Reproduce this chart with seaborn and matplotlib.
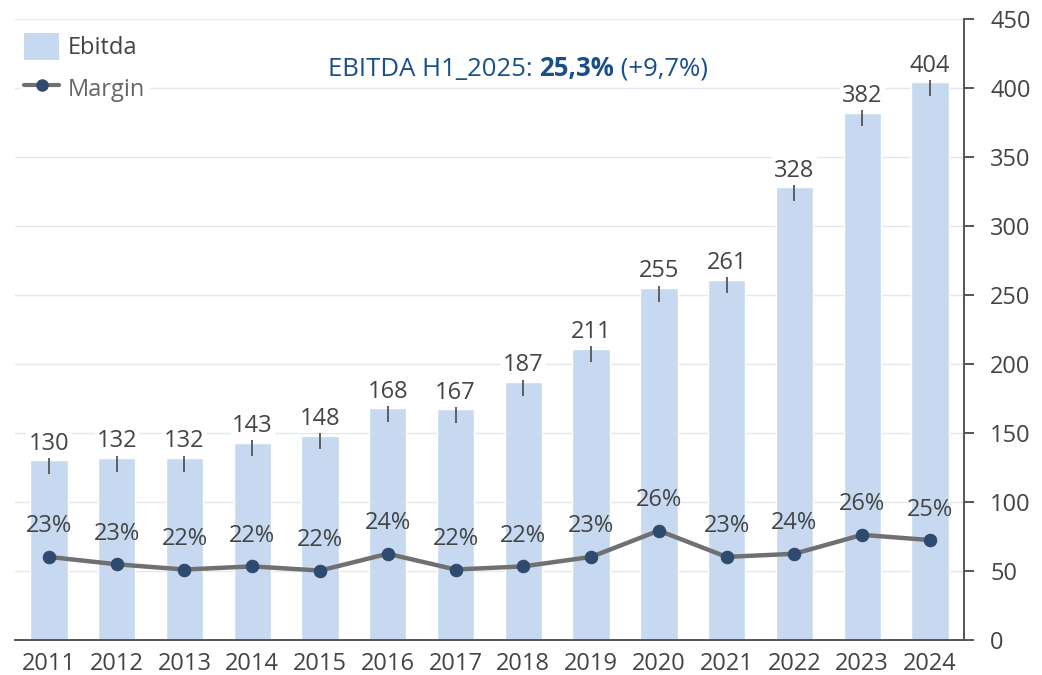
import numpy as np
import pandas as pd
import matplotlib.pyplot as plt
import seaborn as sns
from matplotlib.patches import Patch
from matplotlib.lines import Line2D

# data
years = ['2011', '2012', '2013', '2014', '2015', '2016', '2017',
         '2018', '2019', '2020', '2021', '2022', '2023', '2024']
ebitda = [130, 132, 132, 143, 148, 168, 167, 187, 211, 255, 261, 328, 382, 404]
margin = [23.3, 22.6, 22.1, 22.4, 22.0, 23.6, 22.1, 22.4, 23.3, 25.8, 23.3, 23.6, 25.4, 24.9]
margin_labels = ['23%', '23%', '22%', '22%', '22%', '24%', '22%',
                 '22%', '23%', '26%', '23%', '24%', '26%', '25%']

BAR = '#c6d9f1'
LINE = '#707070'
DOT = '#2e4a6e'
TXT = '#444444'
TITLE = '#1a5089'
FS = 17

sns.set_theme(style='white')
plt.rcParams['font.family'] = ['Open Sans', 'DejaVu Sans']

df = pd.DataFrame({'year': years, 'ebitda': ebitda, 'margin': margin})

fig = plt.figure(figsize=(10.42, 6.75), dpi=100)
ax = fig.add_axes([0.0144, 0.0519, 0.9106, 0.9205])

sns.barplot(data=df, x='year', y='ebitda', color=BAR, width=0.55,
            saturation=1, ax=ax, zorder=2)

# margin on a hidden secondary axis (twinx moves ax ticks left, so style after)
pos = np.arange(len(years))
ax2 = ax.twinx()
sns.lineplot(x=pos, y=margin, ax=ax2, color=LINE, lw=3.2, marker='o',
             markersize=9, markerfacecolor=DOT, markeredgecolor=DOT)
ax2.set_ylim(15.4, 74.5)
ax2.set_yticks([])
ax2.set_ylabel('')
for s in ax2.spines.values():
    s.set_visible(False)
for x, v, lab in zip(pos, margin, margin_labels):
    ax2.annotate(lab, (x, v), xytext=(0, 30.5), textcoords='offset pixels',
                 ha='center', va='center', fontsize=FS, color=TXT)

ax.set_xlim(-0.5, 13.5)
ax.set_ylim(0, 450)
ax.set_yticks(np.arange(0, 451, 50))
ax.yaxis.tick_right()
ax.yaxis.set_label_position('right')
ax.grid(axis='y', color='#e3e7f0', lw=1)
ax.set_axisbelow(True)
ax.set_xlabel('')
ax.set_ylabel('')
for s in ['left', 'top']:
    ax.spines[s].set_visible(False)
for s in ['right', 'bottom']:
    ax.spines[s].set_visible(True)
    ax.spines[s].set_color('#555555')
    ax.spines[s].set_linewidth(1.4)
ax.tick_params(axis='y', left=False, right=True, labelleft=False, labelright=True,
               length=7, width=1.4, color='#555555', pad=12,
               labelsize=FS, labelcolor=TXT)
ax.tick_params(axis='x', bottom=False, pad=3, labelsize=FS, labelcolor=TXT)

# value labels with small leader ticks
ax.vlines(pos, np.array(ebitda) - 10, np.array(ebitda) + 3.3,
          color='#555555', lw=1.3, zorder=3)
for x, v in zip(pos, ebitda):
    ax.annotate(str(v), (x, v), xytext=(0, 16.5), textcoords='offset pixels',
                ha='center', va='center', fontsize=FS, color=TXT, zorder=4,
                bbox=dict(boxstyle='square,pad=0.1', fc='white', ec='none'))

# legend
handles = [Patch(facecolor=BAR, edgecolor='none'),
           Line2D([], [], color=LINE, lw=3, marker='o', markersize=8,
                  markerfacecolor=DOT, markeredgecolor=DOT)]
leg = ax.legend(handles, ['Ebitda', 'Margin'], loc='upper left',
                bbox_to_anchor=(0.005, 0.985), frameon=True, fontsize=FS,
                handlelength=1.45, handleheight=1.4, handletextpad=0.4,
                labelspacing=0.6, borderpad=0.2, borderaxespad=0)
leg.get_frame().set_facecolor('white')
leg.get_frame().set_edgecolor('none')
leg.get_frame().set_alpha(1)
leg.set_zorder(5)
for t, c in zip(leg.get_texts(), [TXT, '#666666']):
    t.set_color(c)

# headline with a bold part
t1 = fig.text(0.3148, 1 - 76 / 675, 'EBITDA H1_2025: ', fontsize=18.5,
              color=TITLE, va='baseline')
t2 = ax.annotate('25,3%', xy=(1, 0), xycoords=t1, va='bottom', fontsize=18.5,
                 color=TITLE, fontweight='bold')
t3 = ax.annotate(' (+9,7%)', xy=(1, 0), xycoords=t2, va='bottom', fontsize=18.5,
                 color=TITLE)

fig.savefig('out.png', dpi=100)
